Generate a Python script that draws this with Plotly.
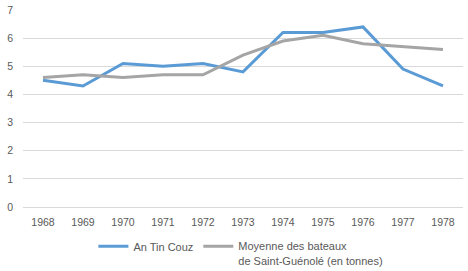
import plotly.graph_objects as go

years = ["1968", "1969", "1970", "1971", "1972", "1973", "1974", "1975", "1976", "1977", "1978"]
an_tin_couz = [4.5, 4.3, 5.1, 5.0, 5.1, 4.8, 6.2, 6.2, 6.4, 4.9, 4.3]
moyenne = [4.6, 4.7, 4.6, 4.7, 4.7, 5.4, 5.9, 6.1, 5.8, 5.7, 5.6]
y_ticks = [0, 1, 2, 3, 4, 5, 6, 7]

fig = go.Figure()
fig.add_trace(go.Scatter(x=years, y=an_tin_couz, mode="lines", name="An Tin Couz",
                         line=dict(color="#5B9BD5", width=3)))
fig.add_trace(go.Scatter(x=years, y=moyenne, mode="lines",
                         name="Moyenne des bateaux<br>de Saint-Guénolé (en tonnes)",
                         line=dict(color="#A5A5A5", width=3)))

fig.update_layout(
    width=468, height=271,
    margin=dict(l=23, r=5, t=10, b=64, autoexpand=False),
    paper_bgcolor="white", plot_bgcolor="white",
    font=dict(family="Liberation Sans, Arial, sans-serif", size=11, color="#595959"),
    showlegend=True,
    legend=dict(orientation="h", x=0.16, xanchor="left",
                yref="container", y=0.142, yanchor="top",
                valign="top", font=dict(size=11, color="#595959"),
                tracegroupgap=0, itemwidth=30),
    xaxis=dict(type="category", range=[-0.5, 10.5], showgrid=False,
               showline=True, linecolor="#D9D9D9", linewidth=1, automargin=False,
               ticks="", tickfont=dict(size=10.5, color="#595959"), ticklabelstandoff=5),
    yaxis=dict(range=[0, 7], tickvals=y_ticks, showgrid=True, gridcolor="#D9D9D9",
               gridwidth=1, zeroline=False, showline=False, ticks="", automargin=False,
               tickfont=dict(size=10.5, color="#595959"), ticklabelstandoff=9),
)

fig.write_html("out.html")
